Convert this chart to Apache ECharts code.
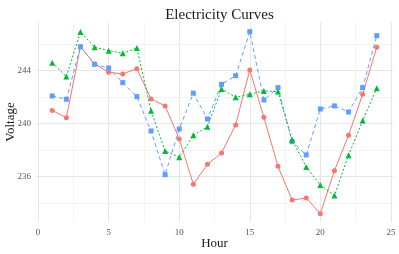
<!DOCTYPE html>
<html><head><meta charset="utf-8">
<script src="https://cdn.jsdelivr.net/npm/echarts@6/dist/echarts.min.js"></script>
<style>html,body{margin:0;padding:0;background:#fff}#c{width:399px;height:254px}</style>
</head><body><div id="c"></div>
<script>
const hours = [1,2,3,4,5,6,7,8,9,10,11,12,13,14,15,16,17,18,19,20,21,22,23,24];
const redValues = [241.0,240.45,245.8,244.5,243.88,243.75,244.15,241.86,241.34,238.85,235.42,236.93,237.79,239.9,244.05,240.48,236.78,234.24,234.39,233.21,236.45,239.12,242.22,245.77];
const blueValues = [242.09,241.84,245.8,244.48,244.2,243.1,242.04,239.45,236.15,239.6,242.3,240.35,242.97,243.62,246.94,241.79,242.72,238.64,237.64,241.11,241.34,240.88,242.72,246.64];
const greenValues = [244.6,243.55,246.92,245.77,245.51,245.31,245.71,240.98,237.94,237.46,239.12,239.77,242.62,241.99,242.22,242.47,242.42,238.79,236.73,235.37,234.57,237.62,240.23,242.67];
const xTicks = [0,2.5,5,7.5,10,12.5,15,17.5,20,22.5,25];
const xLabels = [0,5,10,15,20,25];
const yTicks = [234,236,238,240,242,244,246];
const yLabels = [236,240,244];

const pair = (vals) => hours.map((h,i)=>[h, vals[i]]);
const chart = echarts.init(document.getElementById('c'), null, {renderer:'canvas'});
const serif = 'Liberation Serif';
const major = '#e6e6e6', minor = '#f3f3f3';
chart.setOption({
  animation:false,
  title:{text:'Electricity Curves', left:214.5, textAlign:'center', top:3,
    textStyle:{fontFamily:serif, fontWeight:'normal', fontSize:15, color:'#1a1a1a'}},
  grid:{left:36, top:22, width:357, height:200, containLabel:false, outerBoundsMode:'none'},
  xAxis:{type:'value', min:-0.15, max:25.15,
    name:'Hour', nameLocation:'middle', nameGap:15, nameMoveOverlap:false,
    nameTextStyle:{fontFamily:serif, fontSize:13, color:'#1a1a1a'},
    axisLine:{show:false}, axisTick:{show:false, customValues:xTicks},
    axisLabel:{customValues:xLabels, fontFamily:serif, fontSize:9, color:'#555', margin:6},
    splitLine:{show:true, lineStyle:{color:[major,minor], width:1}}},
  yAxis:{type:'value', min:232.58, max:247.67,
    name:'Voltage', nameLocation:'middle', nameGap:19, nameRotate:90, nameMoveOverlap:false,
    nameTextStyle:{fontFamily:serif, fontSize:13, color:'#1a1a1a'},
    axisLine:{show:false}, axisTick:{show:false, customValues:yTicks},
    axisLabel:{customValues:yLabels, fontFamily:serif, fontSize:9, color:'#555', margin:5},
    splitLine:{show:true, lineStyle:{color:[minor,major], width:1}}},
  series:[
    {type:'line', data:pair(redValues), symbol:'circle', symbolSize:5,
      lineStyle:{color:'#F8766D', width:1}, itemStyle:{color:'#F8766D'}},
    {type:'line', data:pair(blueValues), symbol:'rect', symbolSize:5,
      lineStyle:{color:'#619CFF', width:1, type:[4,3]}, itemStyle:{color:'#619CFF'}},
    {type:'line', data:pair(greenValues), symbol:'triangle', symbolSize:6,
      lineStyle:{color:'#00BA38', width:1, type:[2,2]}, itemStyle:{color:'#00BA38'}}
  ]
});
</script></body></html>
